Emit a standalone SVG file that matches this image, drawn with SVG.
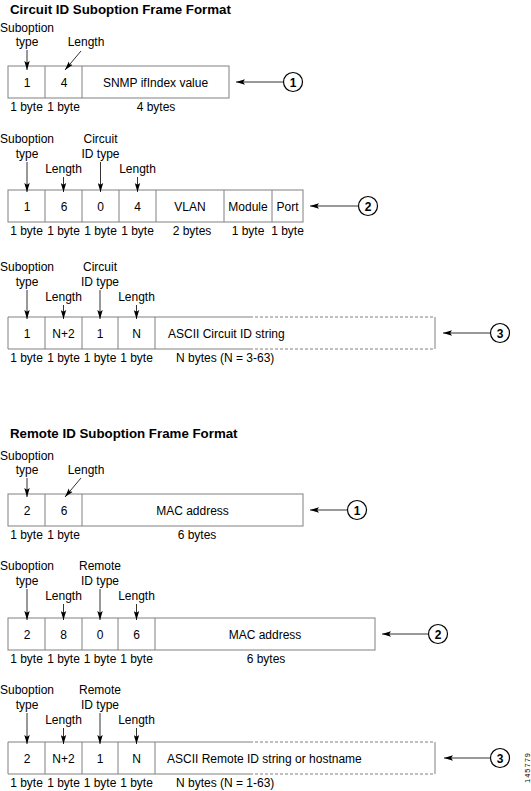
<svg xmlns="http://www.w3.org/2000/svg" width="531" height="791" viewBox="0 0 531 791">
<defs>
<marker id="ah" viewBox="0 0 10 6" refX="10" refY="3" markerWidth="9" markerHeight="6" markerUnits="userSpaceOnUse" orient="auto">
<path d="M0,0 L10,3 L0,6 L2,3 z" fill="#000"/>
</marker>
<style>
text{font-family:"Liberation Sans",Arial,sans-serif;font-size:12px;fill:#000}
.t{font-weight:bold;font-size:13.3px}
.m{text-anchor:middle}
.n{font-weight:bold;text-anchor:middle}
.box{fill:#fff;stroke:#808080;stroke-width:1}
.div{stroke:#808080;stroke-width:1}
.dash{stroke:#808080;stroke-width:1;stroke-dasharray:3,2;fill:none}
.arr{stroke:#333;stroke-width:1;fill:none;marker-end:url(#ah)}
.c{fill:#fff;stroke:#000;stroke-width:1.2}
.id{font-size:7.5px}
</style>
</defs>
<rect width="531" height="791" fill="#fff"/>

<text class="t" x="10" y="13.5">Circuit ID Suboption Frame Format</text>
<text class="t" x="10" y="438">Remote ID Suboption Frame Format</text>

<!-- Circuit frame 1 -->
<g id="c1">
<rect class="box" x="8" y="66" width="221" height="32"/>
<line class="div" x1="45" y1="66" x2="45" y2="98"/>
<line class="div" x1="82" y1="66" x2="82" y2="98"/>
<text class="m" x="27" y="86.5">1</text>
<text class="m" x="64" y="86.5">4</text>
<text class="m" x="155.5" y="86.5">SNMP ifIndex value</text>
<text class="m" x="26.5" y="111">1 byte</text>
<text class="m" x="63.5" y="111">1 byte</text>
<text class="m" x="156" y="111">4 bytes</text>
<text class="m" x="27" y="32">Suboption</text>
<text class="m" x="27" y="46">type</text>
<text class="m" x="86" y="46">Length</text>
</g>
<g id="n1a">
<circle class="c" cx="293" cy="82" r="9.5"/>
<text class="n" x="293" y="86.5">1</text>
</g>

<!-- Circuit frame 2 -->
<g id="c2">
<rect class="box" x="8" y="190" width="295" height="32"/>
<line class="div" x1="45" y1="190" x2="45" y2="222"/>
<line class="div" x1="82" y1="190" x2="82" y2="222"/>
<line class="div" x1="119" y1="190" x2="119" y2="222"/>
<line class="div" x1="156" y1="190" x2="156" y2="222"/>
<line class="div" x1="224" y1="190" x2="224" y2="222"/>
<line class="div" x1="272" y1="190" x2="272" y2="222"/>
<text class="m" x="27" y="210.5">1</text>
<text class="m" x="64" y="210.5">6</text>
<text class="m" x="100.5" y="210.5">0</text>
<text class="m" x="137.5" y="210.5">4</text>
<text class="m" x="190" y="210.5">VLAN</text>
<text class="m" x="248" y="210.5">Module</text>
<text class="m" x="287.5" y="210.5">Port</text>
<text class="m" x="26.5" y="235">1 byte</text>
<text class="m" x="63.5" y="235">1 byte</text>
<text class="m" x="100.5" y="235">1 byte</text>
<text class="m" x="137.5" y="235">1 byte</text>
<text class="m" x="192" y="235">2 bytes</text>
<text class="m" x="248" y="235">1 byte</text>
<text class="m" x="287.5" y="235">1 byte</text>
<text class="m" x="27" y="143">Suboption</text>
<text class="m" x="27" y="158">type</text>
<text class="m" x="63.5" y="173">Length</text>
<text class="m" x="100.5" y="143">Circuit</text>
<text class="m" x="100.5" y="158">ID type</text>
<text class="m" x="137.5" y="173">Length</text>
</g>
<g id="n2a">
<circle class="c" cx="368" cy="206" r="9.5"/>
<text class="n" x="368" y="210.5">2</text>
</g>

<!-- Circuit frame 3 -->
<g id="c3">
<rect fill="#fff" x="8" y="317" width="427" height="32"/>
<path class="div" fill="none" d="M250,317 H8 V349 H250"/>
<line class="div" x1="435" y1="317" x2="435" y2="349"/>
<line class="dash" x1="250" y1="317" x2="435" y2="317"/>
<line class="dash" x1="250" y1="349" x2="435" y2="349"/>
<line class="div" x1="45" y1="317" x2="45" y2="349"/>
<line class="div" x1="82" y1="317" x2="82" y2="349"/>
<line class="div" x1="118" y1="317" x2="118" y2="349"/>
<line class="div" x1="155" y1="317" x2="155" y2="349"/>
<text class="m" x="27" y="337.5">1</text>
<text class="m" x="63.5" y="337.5">N+2</text>
<text class="m" x="100" y="337.5">1</text>
<text class="m" x="136.5" y="337.5">N</text>
<text x="168" y="337.5">ASCII Circuit ID string</text>
<text class="m" x="26.5" y="362">1 byte</text>
<text class="m" x="63.5" y="362">1 byte</text>
<text class="m" x="100" y="362">1 byte</text>
<text class="m" x="136.5" y="362">1 byte</text>
<text x="176" y="362">N bytes (N = 3-63)</text>
<text class="m" x="27" y="271">Suboption</text>
<text class="m" x="27" y="286">type</text>
<text class="m" x="63.5" y="301">Length</text>
<text class="m" x="100" y="271">Circuit</text>
<text class="m" x="100" y="286">ID type</text>
<text class="m" x="136.5" y="301">Length</text>
</g>
<g id="n3a">
<circle class="c" cx="500" cy="333" r="9.5"/>
<text class="n" x="500" y="337.5">3</text>
</g>

<!-- Remote frame 1 -->
<g id="r1">
<rect class="box" x="8" y="494" width="295" height="32"/>
<line class="div" x1="45" y1="494" x2="45" y2="526"/>
<line class="div" x1="82" y1="494" x2="82" y2="526"/>
<text class="m" x="27" y="514.5">2</text>
<text class="m" x="64" y="514.5">6</text>
<text class="m" x="192.5" y="514.5">MAC address</text>
<text class="m" x="26.5" y="539">1 byte</text>
<text class="m" x="63.5" y="539">1 byte</text>
<text class="m" x="197" y="539">6 bytes</text>
<text class="m" x="27" y="460">Suboption</text>
<text class="m" x="27" y="474">type</text>
<text class="m" x="86" y="474">Length</text>
</g>
<g id="n1b">
<circle class="c" cx="357" cy="510" r="9.5"/>
<text class="n" x="357" y="514.5">1</text>
</g>

<!-- Remote frame 2 -->
<g id="r2">
<rect class="box" x="8" y="618" width="367" height="32"/>
<line class="div" x1="45" y1="618" x2="45" y2="650"/>
<line class="div" x1="82" y1="618" x2="82" y2="650"/>
<line class="div" x1="118" y1="618" x2="118" y2="650"/>
<line class="div" x1="155" y1="618" x2="155" y2="650"/>
<text class="m" x="27" y="638.5">2</text>
<text class="m" x="63.5" y="638.5">8</text>
<text class="m" x="100" y="638.5">0</text>
<text class="m" x="136.5" y="638.5">6</text>
<text class="m" x="265" y="638.5">MAC address</text>
<text class="m" x="26.5" y="663">1 byte</text>
<text class="m" x="63.5" y="663">1 byte</text>
<text class="m" x="100" y="663">1 byte</text>
<text class="m" x="136.5" y="663">1 byte</text>
<text class="m" x="266" y="663">6 bytes</text>
<text class="m" x="27" y="570">Suboption</text>
<text class="m" x="27" y="585">type</text>
<text class="m" x="63.5" y="600">Length</text>
<text class="m" x="100" y="570">Remote</text>
<text class="m" x="100" y="585">ID type</text>
<text class="m" x="136.5" y="600">Length</text>
</g>
<g id="n2b">
<circle class="c" cx="438" cy="634" r="9.5"/>
<text class="n" x="438" y="638.5">2</text>
</g>

<!-- Remote frame 3 -->
<g id="r3">
<rect fill="#fff" x="8" y="742" width="427" height="32"/>
<path class="div" fill="none" d="M250,742 H8 V774 H250"/>
<line class="div" x1="435" y1="742" x2="435" y2="774"/>
<line class="dash" x1="250" y1="742" x2="435" y2="742"/>
<line class="dash" x1="250" y1="774" x2="435" y2="774"/>
<line class="div" x1="45" y1="742" x2="45" y2="774"/>
<line class="div" x1="82" y1="742" x2="82" y2="774"/>
<line class="div" x1="118" y1="742" x2="118" y2="774"/>
<line class="div" x1="155" y1="742" x2="155" y2="774"/>
<text class="m" x="27" y="762.5">2</text>
<text class="m" x="63.5" y="762.5">N+2</text>
<text class="m" x="100" y="762.5">1</text>
<text class="m" x="136.5" y="762.5">N</text>
<text x="167" y="762.5">ASCII Remote ID string or hostname</text>
<text class="m" x="26.5" y="787">1 byte</text>
<text class="m" x="63.5" y="787">1 byte</text>
<text class="m" x="100" y="787">1 byte</text>
<text class="m" x="136.5" y="787">1 byte</text>
<text x="176" y="787">N bytes (N = 1-63)</text>
<text class="m" x="27" y="694">Suboption</text>
<text class="m" x="27" y="709">type</text>
<text class="m" x="63.5" y="724">Length</text>
<text class="m" x="100" y="694">Remote</text>
<text class="m" x="100" y="709">ID type</text>
<text class="m" x="136.5" y="724">Length</text>
</g>
<g id="n3b">
<circle class="c" cx="500" cy="758" r="9.5"/>
<text class="n" x="500" y="762.5">3</text>
</g>

<text class="id m" transform="translate(529.5,768) rotate(-90)" textLength="30">145779</text>

<g id="connectors">
<line class="arr" x1="27" y1="50" x2="27" y2="70"/>
<line class="arr" x1="81" y1="51" x2="65" y2="70"/>
<line class="arr" x1="283.5" y1="82" x2="236" y2="82"/>

<line class="arr" x1="27" y1="162" x2="27" y2="192"/>
<line class="arr" x1="63.5" y1="177" x2="63.5" y2="192"/>
<line class="arr" x1="100.5" y1="162" x2="100.5" y2="192"/>
<line class="arr" x1="137.5" y1="177" x2="137.5" y2="192"/>
<line class="arr" x1="358.5" y1="206" x2="310" y2="206"/>

<line class="arr" x1="27" y1="290" x2="27" y2="319"/>
<line class="arr" x1="63.5" y1="305" x2="63.5" y2="319"/>
<line class="arr" x1="100" y1="290" x2="100" y2="319"/>
<line class="arr" x1="136.5" y1="305" x2="136.5" y2="319"/>
<line class="arr" x1="490.5" y1="333" x2="443" y2="333"/>

<line class="arr" x1="27" y1="478" x2="27" y2="497"/>
<line class="arr" x1="81" y1="478" x2="65" y2="497"/>
<line class="arr" x1="347.5" y1="510" x2="310" y2="510"/>

<line class="arr" x1="27" y1="589" x2="27" y2="620"/>
<line class="arr" x1="63.5" y1="604" x2="63.5" y2="620"/>
<line class="arr" x1="100" y1="589" x2="100" y2="620"/>
<line class="arr" x1="136.5" y1="604" x2="136.5" y2="620"/>
<line class="arr" x1="428.5" y1="634" x2="382" y2="634"/>

<line class="arr" x1="27" y1="713" x2="27" y2="744"/>
<line class="arr" x1="63.5" y1="728" x2="63.5" y2="744"/>
<line class="arr" x1="100" y1="713" x2="100" y2="744"/>
<line class="arr" x1="136.5" y1="728" x2="136.5" y2="744"/>
<line class="arr" x1="490.5" y1="758" x2="444" y2="758"/>
</g>
</svg>
